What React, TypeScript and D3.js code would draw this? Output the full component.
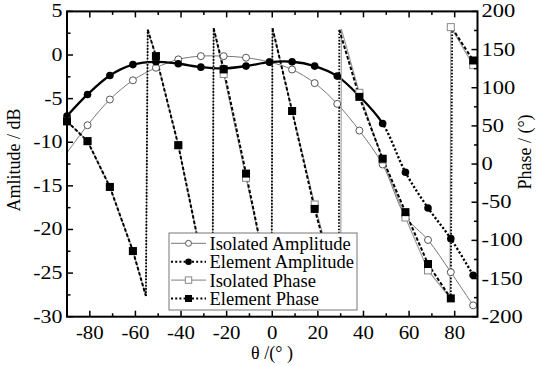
import React from 'react';
import * as d3 from 'd3';

// ---- data ----
const theta = [-90, -81, -71.2, -61.1, -51, -41.2, -31.3, -21.3, -11.5, -1.2, 8.7, 18.6, 28.5, 38.2, 48.4, 58.4, 68.3, 78.3, 88.1];
const isoAmp = [-11.2, -8.05, -5.1, -2.9, -1.46, -0.5, -0.13, -0.13, -0.31, -0.8, -1.66, -3.22, -5.6, -8.66, -12.55, -18.5, -21.2, -24.9, -28.7];
const elemAmp = [-7.0, -4.52, -2.34, -1.1, -0.78, -1.0, -1.39, -1.54, -1.27, -0.82, -0.77, -1.27, -2.42, -4.72, -7.85, -13.44, -17.53, -21.05, -25.25];
const elemPhase = [56, 30, -30, -114, 141.4, 24.7, -118, 124, -12.5, -161, 69.5, -58.8, -168, 88, 7, -63, -131, -176, 135.7];
const isoPhase = [56, 30, -30, -114, 141.4, 24.7, -118, 118, -18, -161, 69.5, -53, -162, 93.4, 6, -70, -139.3, 179.4, 129.6];
// phase-wrap vertices [theta, phase]
const elemPhaseWraps: [number, number][] = [[-55.4, -173], [-54.6, 176], [-26.2, -179], [-25.7, 178], [-0.3, -179], [0.1, 178], [29.2, -179], [29.4, 176], [78.9, 178]];
const isoPhaseWraps: [number, number][] = [[-55.4, -173], [-54.6, 176], [-26.2, -179], [-25.7, 178], [-0.3, -179], [0.1, 178], [30.0, -179], [30.3, 177], [77.9, -175]];

const xMajor = [-80, -60, -40, -20, 0, 20, 40, 60, 80];
const xMinor = [-70, -50, -30, -10, 10, 30, 50, 70];
const ampMajor = [5, 0, -5, -10, -15, -20, -25, -30];
const ampMinor = [2.5, -2.5, -7.5, -12.5, -17.5, -22.5, -27.5];
const phMajor = [200, 150, 100, 50, 0, -50, -100, -150, -200];
const phMinor = [175, 125, 75, 25, -25, -75, -125, -175];
const legendLabels = ['Isolated Amplitude', 'Element Amplitude', 'Isolated Phase', 'Element Phase'];

const W = 536, H = 366;
const L = 67, R = 477.5, T = 11.4, B = 316.7;
const FONT = "'Liberation Serif', 'Times New Roman', Times, serif";
const TS: React.CSSProperties = { fontFamily: FONT, fontSize: 18 };

export default function App() {
  const x = d3.scaleLinear().domain([-90, 90]).range([L, R]);
  const yA = d3.scaleLinear().domain([-30, 5]).range([B, T]);
  const yP = d3.scaleLinear().domain([-200, 200]).range([B, T]);

  const ampLine = d3.line<[number, number]>().x(d => x(d[0])).y(d => yA(d[1])).curve(d3.curveCatmullRom.alpha(0.5));
  const isoAmpPts = theta.map((t, i) => [t, isoAmp[i]] as [number, number]);
  const elemAmpPts = theta.map((t, i) => [t, elemAmp[i]] as [number, number]);

  const merge = (vals: number[], wraps: [number, number][]) =>
    theta.map((t, i) => [t, vals[i]] as [number, number]).concat(wraps).sort((a, b) => a[0] - b[0]);
  const elemPhPts = merge(elemPhase, elemPhaseWraps);
  const isoPhPts = merge(isoPhase, isoPhaseWraps);
  const phLine = d3.line<[number, number]>().x(d => x(d[0])).y(d => yP(d[1]));

  const splitX = x(48.4);

  const legY0 = 243.3, legStep = 18.4, legX = 169, legW = 188, legH = 77;

  return (
    <svg width={W} height={H} style={{ position: 'absolute', left: 0, top: 0, background: '#fff' }}>
      <defs>
        <clipPath id="plot"><rect x={L} y={T} width={R - L} height={B - T} /></clipPath>
        <clipPath id="solidPart"><rect x={0} y={0} width={splitX} height={H} /></clipPath>
        <clipPath id="dotPart"><rect x={splitX} y={0} width={W - splitX} height={H} /></clipPath>
      </defs>
      <rect x={0} y={0} width={W} height={H} fill="#fff" />
      <g clipPath="url(#plot)">
        {/* isolated amplitude */}
        <path d={ampLine(isoAmpPts) || ''} fill="none" stroke="#777" strokeWidth={1} />
        {/* element amplitude */}
        <g clipPath="url(#solidPart)">
          <path d={ampLine(elemAmpPts) || ''} fill="none" stroke="#000" strokeWidth={2.3} />
        </g>
        <g clipPath="url(#dotPart)">
          <path d={ampLine(elemAmpPts) || ''} fill="none" stroke="#000" strokeWidth={2.3} strokeDasharray="2.2 2" />
        </g>
        {/* isolated phase */}
        <path d={phLine(isoPhPts) || ''} fill="none" stroke="#999" strokeWidth={1.1} />
        {/* element phase, drawn piecewise */}
        {elemPhPts.slice(1).map((p, i) => {
          const a = elemPhPts[i];
          const wrap = Math.abs(p[1] - a[1]) > 200;
          return <line key={'ep' + i} x1={x(a[0])} y1={yP(a[1])} x2={x(p[0])} y2={yP(p[1])}
            stroke="#000" strokeWidth={wrap ? 1.8 : 2} strokeDasharray={wrap ? '1.6 1.6' : '3.5 2'} />;
        })}
      </g>
      {/* markers */}
      {theta.map((t, i) => i === 0 ? null : (
        <circle key={'ia' + i} cx={x(t)} cy={yA(isoAmp[i])} r={3.5} fill="#fff" stroke="#555" strokeWidth={1} />
      ))}
      {theta.map((t, i) => (
        <circle key={'ea' + i} cx={x(t)} cy={yA(elemAmp[i])} r={3.8} fill="#000" />
      ))}
      {theta.map((t, i) => (
        <rect key={'ip' + i} x={x(t) - 3.5} y={yP(isoPhase[i]) - 3.5} width={7} height={7} fill="#fff" stroke="#888" strokeWidth={1} />
      ))}
      {theta.map((t, i) => (
        <rect key={'epm' + i} x={x(t) - 4} y={yP(elemPhase[i]) - 4} width={8} height={8} fill="#000" />
      ))}

      {/* frame */}
      <rect x={L} y={T} width={R - L} height={B - T} fill="none" stroke="#000" strokeWidth={2} />
      {/* x ticks bottom & top */}
      {xMajor.map(v => (
        <g key={'xm' + v}>
          <line x1={x(v)} x2={x(v)} y1={B} y2={B - 6} stroke="#000" strokeWidth={1.5} />
          <line x1={x(v)} x2={x(v)} y1={T} y2={T + 6} stroke="#000" strokeWidth={1.5} />
          <text transform={`translate(${x(v)},339) scale(1.16,1)`} textAnchor="middle" style={TS}>{String(v)}</text>
        </g>
      ))}
      {xMinor.map(v => (
        <g key={'xn' + v}>
          <line x1={x(v)} x2={x(v)} y1={B} y2={B - 3.5} stroke="#000" strokeWidth={1.5} />
          <line x1={x(v)} x2={x(v)} y1={T} y2={T + 3.5} stroke="#000" strokeWidth={1.5} />
        </g>
      ))}
      {/* left amplitude axis */}
      {ampMajor.map(v => (
        <g key={'am' + v}>
          <line x1={L} x2={L + 6} y1={yA(v)} y2={yA(v)} stroke="#000" strokeWidth={1.5} />
          <text transform={`translate(62.5,${yA(v) + 6}) scale(1.22,1)`} textAnchor="end" style={TS}>{String(v)}</text>
        </g>
      ))}
      {ampMinor.map(v => (
        <line key={'an' + v} x1={L} x2={L + 3.5} y1={yA(v)} y2={yA(v)} stroke="#000" strokeWidth={1.5} />
      ))}
      {/* right phase axis */}
      {phMajor.map(v => (
        <g key={'pm' + v}>
          <line x1={R} x2={R - 6} y1={yP(v)} y2={yP(v)} stroke="#000" strokeWidth={1.5} />
          <text transform={`translate(481.5,${yP(v) + 6}) scale(1.25,1)`} textAnchor="start" style={TS}>{String(v)}</text>
        </g>
      ))}
      {phMinor.map(v => (
        <line key={'pn' + v} x1={R} x2={R - 3.5} y1={yP(v)} y2={yP(v)} stroke="#000" strokeWidth={1.5} />
      ))}

      {/* titles */}
      <text transform="translate(20,160) rotate(-90)" textAnchor="middle" style={TS}>Amlitude / dB</text>
      <text transform="translate(530.5,152) rotate(-90)" textAnchor="middle" style={TS}>Phase / (°)</text>
      <text x={272} y={359} textAnchor="middle" style={TS}>θ /(° )</text>

      {/* legend */}
      <rect x={legX} y={233} width={legW} height={legH} fill="#fff" stroke="#777" strokeWidth={1} />
      {legendLabels.map((lab, i) => {
        const cy = legY0 + i * legStep;
        const mx = 188.5;
        return (
          <g key={'lg' + i}>
            {i === 0 && <line x1={171} x2={206} y1={cy} y2={cy} stroke="#777" strokeWidth={1} />}
            {i === 1 && <line x1={171} x2={206} y1={cy} y2={cy} stroke="#000" strokeWidth={2} strokeDasharray="2 2.2" />}
            {i === 2 && <line x1={171} x2={206} y1={cy} y2={cy} stroke="#999" strokeWidth={1.1} />}
            {i === 3 && <line x1={171} x2={206} y1={cy} y2={cy} stroke="#000" strokeWidth={2} strokeDasharray="2 2.2" />}
            {i === 0 && <circle cx={mx} cy={cy} r={3} fill="#fff" stroke="#555" />}
            {i === 1 && <circle cx={mx} cy={cy} r={3.3} fill="#000" />}
            {i === 2 && <rect x={mx - 3.2} y={cy - 3.2} width={6.4} height={6.4} fill="#fff" stroke="#888" />}
            {i === 3 && <rect x={mx - 3.5} y={cy - 3.5} width={7} height={7} fill="#000" />}
            <text x={209.5} y={cy + 6.5} style={{ ...TS, fontSize: 18.5 }}>{lab}</text>
          </g>
        );
      })}
    </svg>
  );
}
